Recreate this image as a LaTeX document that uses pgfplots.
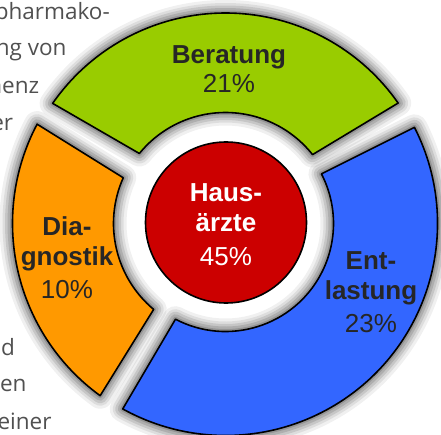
\documentclass[border=0pt]{standalone}
\usepackage{fontspec}
\setmainfont{Liberation Sans}
\newfontfamily\bgfont{Open Sans}
\usepackage{pgfplots}
\pgfplotsset{compat=1.18}
\usepackage{pgfplotstable}
\definecolor{cgreen}{HTML}{99CC00}
\definecolor{corange}{HTML}{FF9900}
\definecolor{cblue}{HTML}{3366FF}
\definecolor{cred}{HTML}{CC0000}
\definecolor{ctext}{HTML}{262626}
\definecolor{cbg}{HTML}{505050}
\pgfdeclareplotmark{nothing}{}

% segments of the ring: centre, outer start/end angle, inner end/start angle, radii, colour index
\pgfplotstableread{
x y ao1 ao2 ai2 ai1 R r k
225.5 210.5 145.2 34.9 38.35 140.9 210.5 111 1
225.5 210.5 152.2 233.95 230.1 155.9 213 112 2
225.5 210.5 26.97 -119.0 -117.6 27.35 212 108 3
}\segments

\newcommand\segshape{(\sgAa:\sgRo pt) arc[start angle=\sgAa, end angle=\sgAb, radius=\sgRo pt] -- (\sgIb:\sgRi pt) arc[start angle=\sgIb, end angle=\sgIa, radius=\sgRi pt] -- cycle}
\newcommand\setsegcol{\ifdim\sgK pt<1.5pt\relax\colorlet{segc}{cgreen}\else\ifdim\sgK pt<2.5pt\relax\colorlet{segc}{corange}\else\colorlet{segc}{cblue}\fi\fi}

\pgfplotsset{segdeps/.style={
  visualization depends on={\thisrow{ao1}\as\sgAa},
  visualization depends on={\thisrow{ao2}\as\sgAb},
  visualization depends on={\thisrow{ai2}\as\sgIb},
  visualization depends on={\thisrow{ai1}\as\sgIa},
  visualization depends on={\thisrow{R}\as\sgRo},
  visualization depends on={\thisrow{r}\as\sgRi},
  visualization depends on={\thisrow{k}\as\sgK},
}}

\begin{document}
\begin{tikzpicture}
\path[use as bounding box] (0,0) rectangle (441pt,434pt);
\clip (0,0) rectangle (441pt,434pt);
\begin{axis}[at={(0,0)}, anchor=south west, x=1pt, y=1pt,
  xmin=0, xmax=441, ymin=0, ymax=434, hide axis, clip=false]

% background text fragments
\begin{scope}[every node/.style={anchor=base east, text=cbg, font=\bgfont\fontsize{22.5}{27}\selectfont, inner sep=0pt}]
\node at (axis cs:110,414) {pharmako-};
\node at (axis cs:66.7,378) {ng von};
\node at (axis cs:39.3,340.7) {nenz};
\node at (axis cs:13.3,303) {er};
\node at (axis cs:15,79) {d};
\node at (axis cs:26.7,42.3) {en};
\node at (axis cs:51.7,5) {einer};
\end{scope}

% soft shadows
\addplot[scatter, only marks, mark=nothing, segdeps,
  scatter/@pre marker code/.code={%
    \foreach \ww/\oo in {26/0.06,20/0.08,15/0.1,10/0.12,5/0.15}{%
      \draw[line width=\ww pt, black, draw opacity=\oo, line join=round] \segshape;}},
  scatter/@post marker code/.code={}] table {\segments};

% segments
\addplot[scatter, only marks, mark=nothing, segdeps,
  scatter/@pre marker code/.code={%
    \setsegcol
    \filldraw[fill=segc, draw=black, line width=1.6pt, line join=round] \segshape;},
  scatter/@post marker code/.code={}] table {\segments};

% centre circle
\addplot[only marks, mark=*, mark size=80.5pt,
  mark options={fill=cred, draw=black, line width=1.6pt}] coordinates {(226,211.5)};
\end{axis}

% labels (1 axis unit = 1pt, axis origin at picture origin)
\begin{scope}[every node/.style={anchor=base, inner sep=0pt, text=ctext}]
\node[font=\bfseries\fontsize{26}{30}\selectfont] at (229pt,370.7pt) {Beratung};
\node[font=\fontsize{26}{30}\selectfont] at (229pt,341.3pt) {21\%};
\node[font=\bfseries\fontsize{26}{30}\selectfont] at (67pt,199pt) {Dia-};
\node[font=\bfseries\fontsize{26}{30}\selectfont] at (67pt,168.5pt) {gnostik};
\node[font=\fontsize{26}{30}\selectfont] at (67pt,135.7pt) {10\%};
\node[font=\bfseries\fontsize{26}{30}\selectfont] at (371pt,165pt) {Ent-};
\node[font=\bfseries\fontsize{26}{30}\selectfont] at (371pt,135pt) {lastung};
\node[font=\fontsize{26}{30}\selectfont] at (371pt,101.7pt) {23\%};
\node[font=\bfseries\fontsize{26}{30}\selectfont, text=white] at (226pt,233pt) {Haus-};
\node[font=\bfseries\fontsize{26}{30}\selectfont, text=white] at (226pt,202.3pt) {ärzte};
\node[font=\fontsize{26}{30}\selectfont, text=white] at (226pt,169pt) {45\%};
\end{scope}
\end{tikzpicture}
\end{document}
